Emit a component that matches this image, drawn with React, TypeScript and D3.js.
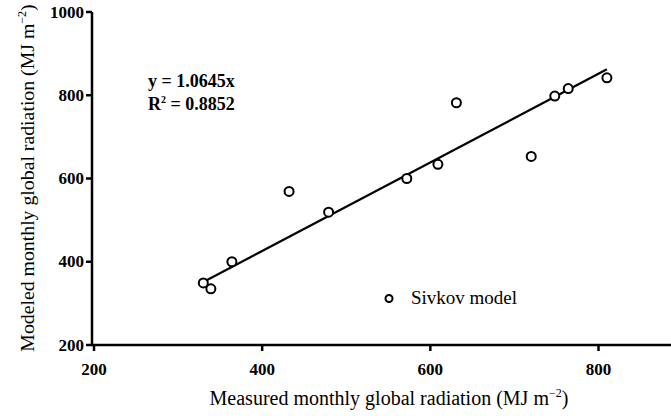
import React from "react";
import * as d3 from "d3";

const measured = [330, 339, 364, 432, 479, 572, 609, 631, 720, 748, 764, 810];
const modeled = [349, 335, 400, 569, 519, 600, 634, 782, 653, 798, 816, 842];
const xTicks = [200, 400, 600, 800];
const yTicks = [200, 400, 600, 800, 1000];
const slope = 1.0645;
const fitRange = [330, 810];
const seriesName = "Sivkov model";

const W = 671;
const H = 416;
const FONT = "Liberation Serif, DejaVu Serif, Times New Roman, serif";

export default function App() {
  const x = d3.scaleLinear().domain([200, 800]).range([94, 598.5]);
  const y = d3.scaleLinear().domain([200, 1000]).range([345, 12]);
  const line = d3
    .line<number>()
    .x((d) => x(d))
    .y((d) => y(d * slope));
  const axisX0 = 92;
  return (
    <svg
      width={W}
      height={H}
      style={{ position: "absolute", left: 0, top: 0, background: "#fff", fontFamily: FONT }}
    >
      <rect width={W} height={H} fill="#fff" />
      <line x1={axisX0} x2={axisX0} y1={y(1000)} y2={y(200) + 1} stroke="#000" strokeWidth={2.5} />
      <line x1={axisX0 - 1} x2={W} y1={y(200)} y2={y(200)} stroke="#000" strokeWidth={2.5} />
      {yTicks.map((t) => (
        <g key={"y" + t}>
          <line x1={axisX0 - 6} x2={axisX0} y1={y(t)} y2={y(t)} stroke="#000" strokeWidth={2.5} />
          <text x={axisX0 - 8} y={y(t) + 5.5} textAnchor="end" fontSize={17} fontWeight="bold">
            {t}
          </text>
        </g>
      ))}
      {xTicks.map((t) => (
        <g key={"x" + t}>
          <line x1={x(t)} x2={x(t)} y1={y(200)} y2={y(200) + 6} stroke="#000" strokeWidth={2.5} />
          <text x={x(t)} y={375} textAnchor="middle" fontSize={17} fontWeight="bold">
            {t}
          </text>
        </g>
      ))}
      <path d={line(fitRange) || ""} stroke="#000" strokeWidth={2.2} fill="none" />
      {measured.map((m, i) => (
        <circle key={i} cx={x(m)} cy={y(modeled[i])} r={4.5} fill="#fff" stroke="#000" strokeWidth={2} />
      ))}
      <text x={148} y={87} fontSize={18} fontWeight="bold">
        y = 1.0645x
      </text>
      <text x={148} y={110} fontSize={18} fontWeight="bold">
        R<tspan dy={-7} fontSize={10}>2</tspan>
        <tspan dy={7}> = 0.8852</tspan>
      </text>
      <circle cx={389} cy={298.5} r={3.5} fill="#fff" stroke="#000" strokeWidth={2} />
      <text x={411} y={304} fontSize={19}>
        {seriesName}
      </text>
      <text x={389} y={405} textAnchor="middle" fontSize={20}>
        Measured monthly global radiation (MJ m
        <tspan dy={-8} fontSize={12}>−2</tspan>
        <tspan dy={8}>)</tspan>
      </text>
      <text transform={`translate(34,178) rotate(-90)`} textAnchor="middle" fontSize={19.8}>
        Modeled monthly global radiation (MJ m
        <tspan dy={-8} fontSize={12}>−2</tspan>
        <tspan dy={8}>)</tspan>
      </text>
    </svg>
  );
}
